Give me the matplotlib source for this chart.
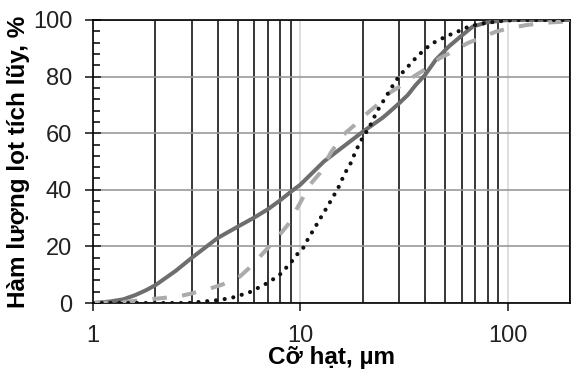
import matplotlib
matplotlib.use("Agg")
import matplotlib.pyplot as plt
from matplotlib.ticker import FixedLocator, LogLocator, MultipleLocator, NullFormatter

plt.rcParams['font.family'] = ['Liberation Sans', 'DejaVu Sans']

# =================
# DANE
# =================
solid_x = [1, 1.2, 1.4, 1.6, 1.8, 2, 2.5, 3, 4, 5, 6, 7, 8, 9, 10, 12, 13, 15, 20, 25,
           27, 30, 33, 36, 40, 45, 52, 58.5, 68, 79, 91, 100, 200]
solid_y = [0, 0.5, 1.3, 2.8, 4.5, 6.3, 11.3, 16, 23, 27, 30.2, 33.2, 36.3, 39.3, 41.8, 47.5, 50, 53.5, 60.5, 65.5,
           67.6, 70.6, 73.5, 77, 80.6, 85.9, 90.6, 93.8, 97.7, 99.1, 99.7, 100, 100]

dash_x = [1, 1.4, 1.8, 2.2, 2.65, 3, 3.7, 4.2, 5.1, 5.6, 6.5, 7.3, 8.2, 8.7, 10, 11.1, 12.4, 14, 16.1, 18.3,
          21, 24, 27, 30, 36, 41, 47, 55, 64, 73, 88, 102, 123, 143, 165, 200]
dash_y = [0, 0.3, 1.2, 1.8, 2.5, 3.4, 5.2, 6.5, 9.3, 12, 17, 21, 25.3, 27.6, 35.5, 41.7, 45.8, 53, 59.4, 62.9,
          67, 70.6, 74.3, 76.4, 80.5, 83, 86.5, 89, 91.8, 93.5, 95.9, 97.1, 98.2, 98.8, 99.2, 99.5]

dot_x = [1, 2, 2.9, 3.5, 4, 4.25, 4.7, 5.16, 5.66, 6.2, 6.76, 7.4, 8, 8.56, 9.1, 9.6, 10.3, 10.75, 13.8, 15.2,
         16.4, 17.5, 18.6, 19.7, 21.6, 23.4, 25.9, 28.8, 30.5, 32.7, 34.9, 37.6, 40.4, 43.5, 47.7, 52.4, 57.5,
         62, 69.3, 76, 83, 95, 110, 200]
dot_y = [0, 0, 0, 0.6, 1, 1.3, 1.9, 2.8, 3.7, 5.2, 6.6, 8.4, 10.2, 12.5, 14.7, 17, 19.3, 21.9, 35.2, 40.5,
         45.8, 49.4, 54, 57.6, 62.3, 67.6, 72.9, 78.4, 80.8, 83.1, 85.5, 87.9, 90, 91.8, 93.3, 94.7, 95.9,
         97.1, 98.2, 98.8, 99.2, 99.7, 100, 100]

x_ticks = [1, 10, 100]
x_tick_labels = ["1", "10", "100"]
y_ticks = [0, 20, 40, 60, 80, 100]

# =================
# WYKRES
# =================
fig = plt.figure(figsize=(5.79, 3.74), dpi=100)
ax = fig.add_axes([93 / 579, 1 - 303 / 374, (570 - 93) / 579, (303 - 20) / 374])

ax.set_xscale("log")
ax.set_xlim(1, 200)
ax.set_ylim(0, 100)

ax.plot(solid_x, solid_y, color="#6e6e6e", lw=2.9, solid_joinstyle="round", zorder=3)
ax.plot(dash_x, dash_y, color="#ababab", lw=2.9, dashes=(3.6, 3.8), zorder=4)
ax.plot(dot_x, dot_y, color="#111111", lw=3.0, dashes=(0.01, 2.1),
        dash_capstyle="round", zorder=5)

# osie
ax.xaxis.set_major_locator(FixedLocator(x_ticks))
ax.set_xticklabels(x_tick_labels)
ax.xaxis.set_minor_locator(LogLocator(base=10, subs=range(2, 10)))
ax.xaxis.set_minor_formatter(NullFormatter())
ax.yaxis.set_major_locator(FixedLocator(y_ticks))
ax.yaxis.set_minor_locator(MultipleLocator(4))

ax.grid(which="major", axis="x", color="#d4d4d4", lw=1.1, zorder=0)
ax.grid(which="minor", axis="x", color="black", lw=1.1, zorder=1)
ax.grid(which="major", axis="y", color="#9a9a9a", lw=1.2, zorder=1)
ax.set_axisbelow(True)

ax.tick_params(axis="x", which="major", direction="out", length=6, width=1.2,
               labelsize=17, pad=10, colors="#222222")
ax.tick_params(axis="x", which="minor", length=0)
ax.tick_params(axis="y", which="major", direction="inout", length=12, width=1.2,
               labelsize=17, pad=9, colors="#222222")
ax.tick_params(axis="y", which="minor", direction="in", length=5, width=1.1)

for s in ax.spines.values():
    s.set_color("black")
    s.set_linewidth(1.2)

ax.set_xlabel("Cỡ hạt, µm", fontsize=17.5, fontweight="bold", labelpad=-1)
ax.set_ylabel("Hàm lượng lọt tích lũy, %", fontsize=17.5, fontweight="bold", labelpad=2)

fig.savefig("out.png", dpi=100)
